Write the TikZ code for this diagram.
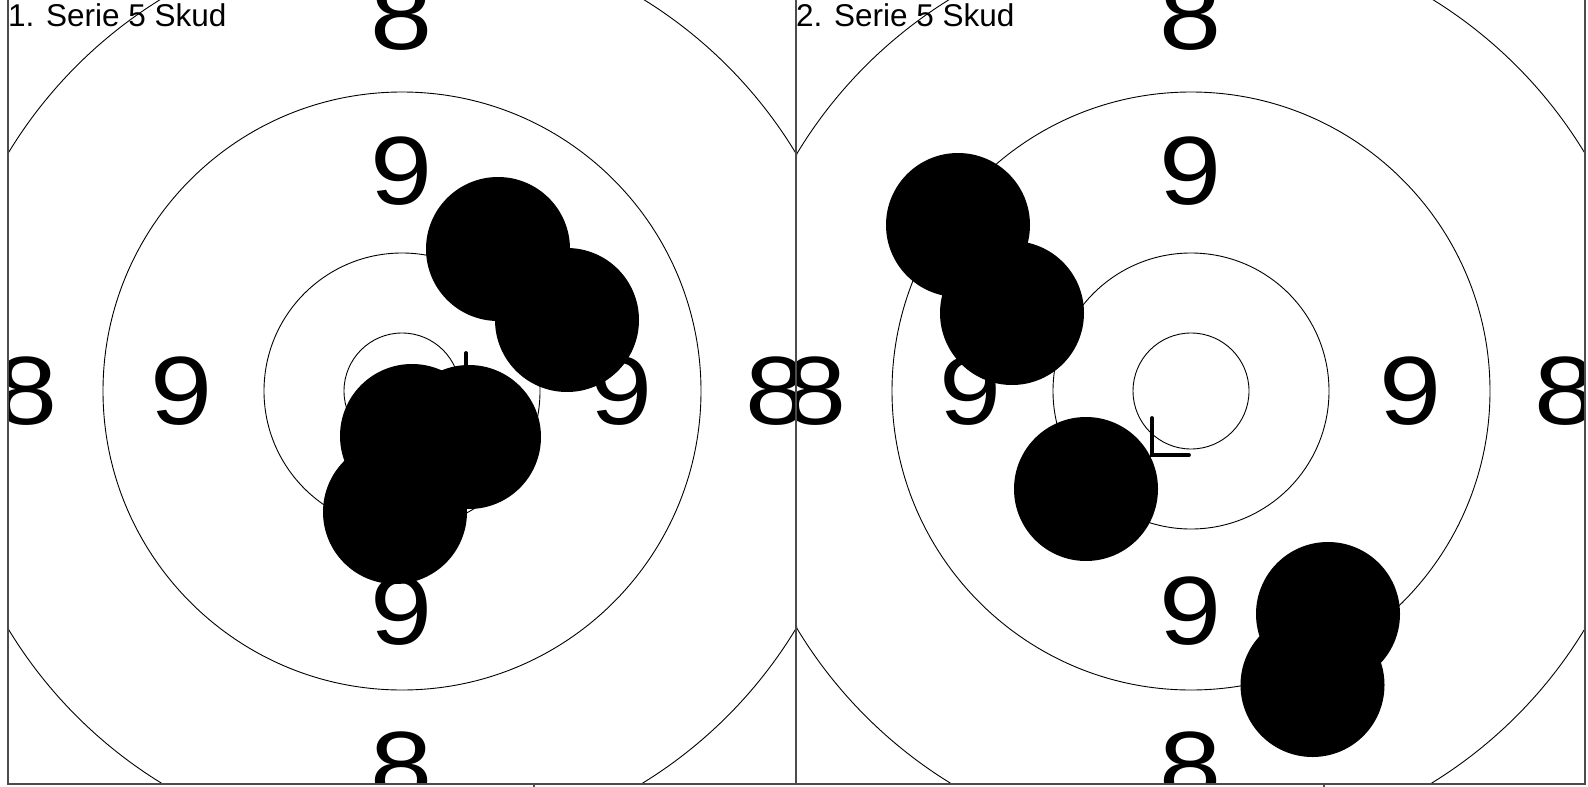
\documentclass[tikz,border=0pt]{standalone}
\usepackage{fontspec}
\setmainfont{Liberation Sans}
\newfontfamily\widefont[FakeStretch=1.15]{Liberation Sans}
\newcommand{\targetpanel}[4]{% #1 prefix, #2 center x, #3 title, #4 left edge
  \begin{scope}
    \clip (#4,-5) rectangle ({#4+789},784);
    \draw[ring] (#2,391) circle[radius=58];
    \draw[ring] (#2,391) circle[radius=138];
    \draw[ring] (#2,391) circle[radius=299];
    \draw[ring] (#2,391) circle[radius=460];
    \node[bignum] (#1n9t) at (#2,171) {9};
    \node[bignum] (#1n9b) at (#2,611) {9};
    \node[bignum] (#1n9l) at ({#2-220},391) {9};
    \node[bignum] (#1n9r) at ({#2+220},391) {9};
    \node[bignum] (#1n8t) at (#2,16) {8};
    \node[bignum] (#1n8b) at (#2,766) {8};
    \node[bignum] (#1n8l) at ({#2-375},391) {8};
    \node[bignum] (#1n8r) at ({#2+375},391) {8};
  \end{scope}
}
\begin{document}
\begin{tikzpicture}[x=1pt,y=-1pt,
  ring/.style={draw=black,line width=0.9pt},
  shot/.style={fill=black},
  bignum/.style={inner sep=0pt,font=\widefont\fontsize{97}{97}\selectfont},
  titletext/.style={inner sep=0pt,anchor=base west,font=\fontsize{31.5}{32}\selectfont},
  panelframe/.style={draw=black!70,line width=1.6pt},
  mpi/.style={line width=3.8pt,line cap=round}]
  \useasboundingbox[fill=white] (0,0) rectangle (1588,787);

  % left panel
  \targetpanel{L}{402}{1. Serie 5 Skud}{8}
  \coordinate (Lm) at (466,391);
  \draw[mpi] (466,353) -- (Lm) -- (504,391);
  \fill[shot] (498,249) circle[radius=72];
  \fill[shot] (567,320) circle[radius=72];
  \fill[shot] (469,437) circle[radius=72];
  \fill[shot] (412,436) circle[radius=72];
  \fill[shot] (395,512) circle[radius=72];
  \node[titletext] (Ltitle) at (8,26.5) {1. Serie 5 Skud};

  % right panel
  \targetpanel{R}{1191}{2. Serie 5 Skud}{796}
  \coordinate (Rm) at (1152,455);
  \draw[mpi] (1152,418) -- (Rm) -- (1189,455);
  \fill[shot] (958,225) circle[radius=72];
  \fill[shot] (1012,313) circle[radius=72];
  \fill[shot] (1086,489) circle[radius=72];
  \fill[shot] (1328,614) circle[radius=72];
  \fill[shot] (1312.5,685) circle[radius=72];
  \node[titletext] (Rtitle) at (796,26.5) {2. Serie 5 Skud};

  % frames
  \draw[panelframe] (8,-5) rectangle (796,784);
  \draw[panelframe] (796,-5) rectangle (1585,784);
  \draw[panelframe] (534,784) -- (534,792);
  \draw[panelframe] (1324,784) -- (1324,792);
\end{tikzpicture}
\end{document}
